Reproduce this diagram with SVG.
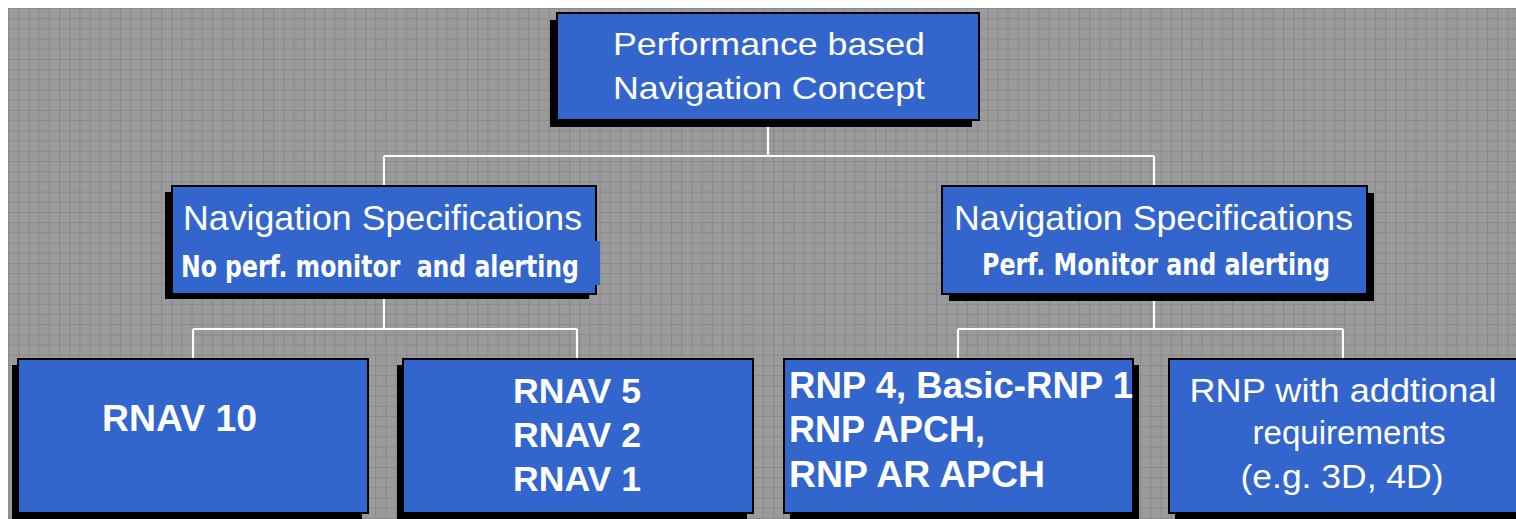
<svg xmlns="http://www.w3.org/2000/svg" width="1516" height="519" viewBox="0 0 1516 519">
  <defs>
    <pattern id="grid" x="8" y="8" width="10.2" height="10.2" patternUnits="userSpaceOnUse">
      <rect width="10.2" height="10.2" fill="#9b9b9b"/>
      <path d="M0 0.5 H10.2 M0.5 0 V10.2" stroke="#898989" stroke-width="1" fill="none"/>
    </pattern>
    <style>
      .box { fill: #3366cc; stroke: #000; stroke-width: 2; }
      .shadow { fill: #000; }
      .conn { stroke: #fff; stroke-width: 2.2; fill: none; }
      .reg { font-family: "Liberation Sans", Arial, sans-serif; fill: #fff; }
      .bold { font-family: "Liberation Sans", Arial, sans-serif; font-weight: bold; fill: #fff; }
      .narrow { font-family: "DejaVu Sans Condensed", "Liberation Sans Narrow", "Liberation Sans", sans-serif; font-stretch: condensed; font-weight: bold; fill: #fff; white-space: pre; }
    </style>
  </defs>

  <rect x="0" y="0" width="1516" height="519" fill="#fff"/>
  <rect x="8" y="8" width="1508" height="511" fill="url(#grid)"/>

  <g id="connectors">
    <path class="conn" d="M768 120 V156 M384 156 H1154 M384 156 V186 M1154 156 V186"/>
    <path class="conn" d="M384 298 V329 M193 329 H577 M193 329 V359 M577 329 V359"/>
    <path class="conn" d="M1154 294 V329 M958 329 H1343 M958 329 V359 M1343 329 V359"/>
  </g>

  <g id="node-pbn">
    <rect class="shadow" x="550" y="20" width="422" height="107"/>
    <rect class="box" x="557" y="13" width="422" height="107"/>
    <text class="reg" x="613" y="55" font-size="32" textLength="312" lengthAdjust="spacingAndGlyphs">Performance based</text>
    <text class="reg" x="613" y="99" font-size="32" textLength="312" lengthAdjust="spacingAndGlyphs">Navigation Concept</text>
  </g>

  <g id="node-navspec-left">
    <rect class="shadow" x="165" y="192" width="424" height="107"/>
    <rect class="box" x="172" y="186" width="424" height="108"/>
    <rect x="595" y="241" width="5" height="44" fill="#3366cc"/>
    <text class="reg" x="183" y="230" font-size="35" textLength="399" lengthAdjust="spacingAndGlyphs">Navigation Specifications</text>
    <text class="narrow" x="181" y="277" font-size="31" textLength="398" lengthAdjust="spacingAndGlyphs">No perf. monitor  and alerting</text>
  </g>

  <g id="node-navspec-right">
    <rect class="shadow" x="949" y="193" width="425" height="108"/>
    <rect class="box" x="942" y="186" width="425" height="108"/>
    <text class="reg" x="954" y="230" font-size="35" textLength="399" lengthAdjust="spacingAndGlyphs">Navigation Specifications</text>
    <text class="narrow" x="982" y="275" font-size="31" textLength="348" lengthAdjust="spacingAndGlyphs">Perf. Monitor and alerting</text>
  </g>

  <g id="node-rnav10">
    <rect class="shadow" x="12" y="365" width="350" height="154"/>
    <rect class="box" x="18" y="359" width="350" height="154"/>
    <text class="bold" x="102" y="431" font-size="36" textLength="155" lengthAdjust="spacingAndGlyphs">RNAV 10</text>
  </g>

  <g id="node-rnav521">
    <rect class="shadow" x="397" y="365" width="350" height="154"/>
    <rect class="box" x="403" y="359" width="350" height="154"/>
    <text class="bold" x="513" y="403" font-size="35" textLength="128" lengthAdjust="spacingAndGlyphs">RNAV 5</text>
    <text class="bold" x="513" y="447" font-size="35" textLength="128" lengthAdjust="spacingAndGlyphs">RNAV 2</text>
    <text class="bold" x="513" y="491" font-size="35" textLength="128" lengthAdjust="spacingAndGlyphs">RNAV 1</text>
  </g>

  <g id="node-rnp">
    <rect class="shadow" x="790" y="365" width="349" height="154"/>
    <rect class="box" x="784" y="359" width="349" height="154"/>
    <text class="bold" x="789" y="398" font-size="36" textLength="344" lengthAdjust="spacingAndGlyphs">RNP 4, Basic-RNP 1</text>
    <text class="bold" x="789" y="442" font-size="36">RNP APCH,</text>
    <text class="bold" x="789" y="487" font-size="36" textLength="256" lengthAdjust="spacingAndGlyphs">RNP AR APCH</text>
  </g>

  <g id="node-rnp-additional">
    <rect class="shadow" x="1175" y="365" width="350" height="154"/>
    <rect class="box" x="1169" y="359" width="350" height="154"/>
    <text class="reg" x="1343" y="402" font-size="33" text-anchor="middle" textLength="307" lengthAdjust="spacingAndGlyphs">RNP with addtional</text>
    <text class="reg" x="1349" y="444" font-size="33" text-anchor="middle" textLength="193" lengthAdjust="spacingAndGlyphs">requirements</text>
    <text class="reg" x="1342" y="488" font-size="33" text-anchor="middle" textLength="203" lengthAdjust="spacingAndGlyphs">(e.g. 3D, 4D)</text>
  </g>
</svg>
